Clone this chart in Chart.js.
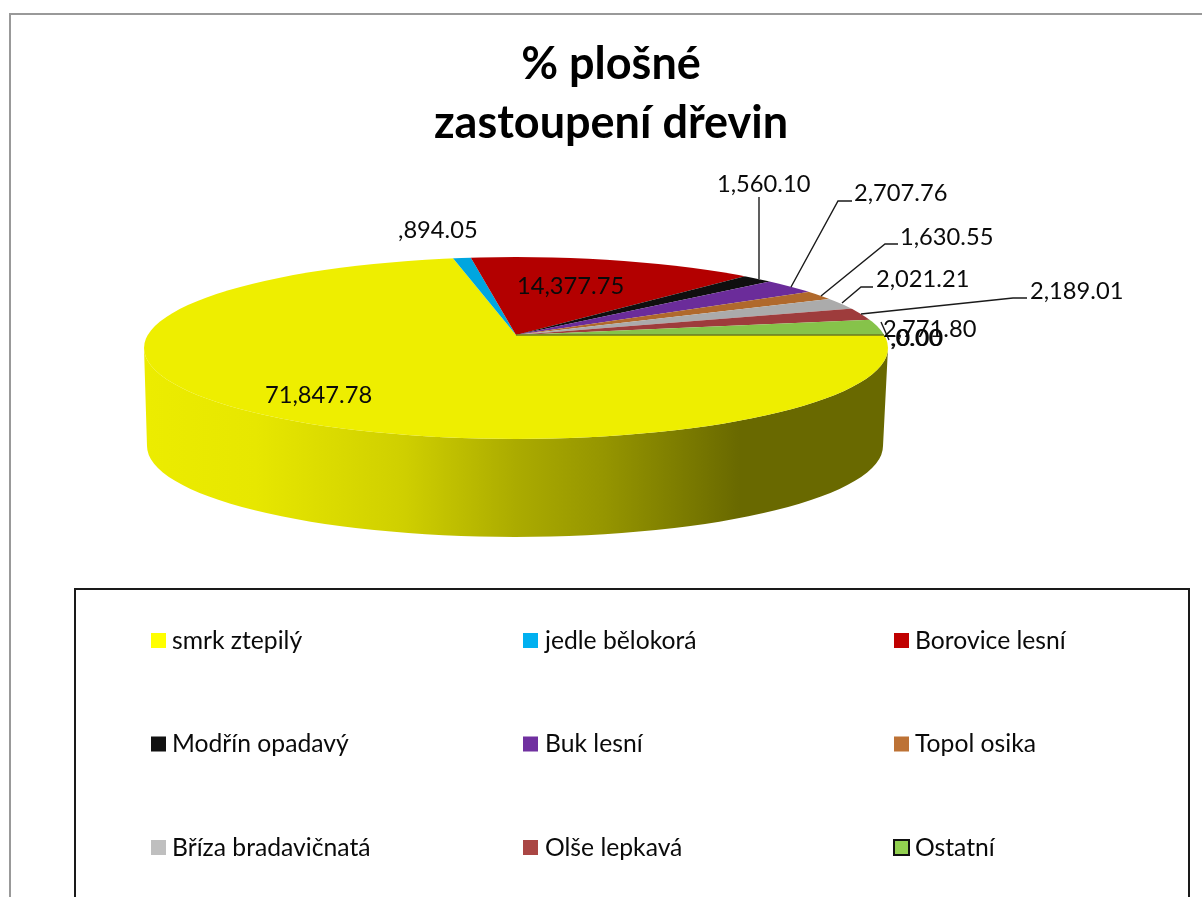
<!DOCTYPE html>
<html lang="cs">
<head>
<meta charset="utf-8">
<title>% plošné zastoupení dřevin</title>
<script src="https://cdn.jsdelivr.net/npm/chart.js@4"></script>
<style>
html,body{margin:0;padding:0;background:#fff;overflow:hidden;width:1202px;height:897px}
#frame{position:absolute;left:9px;top:13px;width:1300px;height:1000px;border-left:2px solid #999;border-top:2px solid #999;background:#fff}
#wrap{position:absolute;left:0;top:0;width:1200px;height:882px}
</style>
</head>
<body>
<div id="frame"><div id="wrap"><canvas id="c"></canvas></div></div>
<script>
const titleLines = ['% plošné', 'zastoupení dřevin'];
const categories = ['smrk ztepilý','jedle bělokorá','Borovice lesní','Modřín opadavý','Buk lesní','Topol osika','Bříza bradavičnatá','Olše lepkavá','Ostatní','',''];
const areaValues = [71847.78,894.05,14377.75,1560.10,2707.76,1630.55,2021.21,2189.01,2771.80,0,0];
const faceColors = ['#EEEE00','#00A6DF','#B30000','#0F0F0F','#6B2C9A','#B0692C','#ABABAB','#9E3C3C','#86C34A','#86C34A','#86C34A'];
const legendColors = ['#FFFF00','#00B0F0','#C00000','#111111','#7030A0','#BD7235','#BFBFBF','#AA4644','#92D050'];

/* Layout only (page pixels) */
const OX = 11, OY = 15;
const apex = {x:516, y:335};
const rim = {x:516, y:348, rx:372, ry:91};
const base = {x:515, y:446, rx:368, ry:91};
const overshoot = 1.35;
const FONT = 'Lato, "Open Sans", sans-serif';
const labelPos = [[265,395],[398,230],[517,286],[717,184],[854,193],[900,237],[876,279],[1030,291],[883,329],[890,338],[891,338]];
const leaders = [
  [[759,197],[759,279]],
  [[852,201],[838,201],[791,287]],
  [[898,244],[885,244],[821,296]],
  [[873,287],[861,287],[842,303]],
  [[1027,298],[1013,298],[861,314]],
  [[881,322],[889,340]]
];
const legendCols = [[151,172],[523,545],[894,915]];
const legendRows = [641,744.5,848];
const legendBox = {l:75,t:589,r:1189,b:940};

const sideStops = [[0,'#ECEC00'],[0.15,'#E7E700'],[0.35,'#CFCF00'],[0.5,'#ABAB00'],[0.62,'#959500'],[0.8,'#696900'],[1,'#696900']];

function fmt(v){
  const s = v.toLocaleString('en-US',{minimumFractionDigits:2,maximumFractionDigits:2});
  return v < 1000 ? ',' + s : s;
}

const pie3d = {
  id:'pie3d',
  beforeDatasetsDraw(chart){
    const ctx = chart.ctx, arcs = chart.getDatasetMeta(0).data;
    ctx.save();
    ctx.translate(-OX,-OY);
    const g = ctx.createLinearGradient(rim.x-rim.rx,0,rim.x+rim.rx,0);
    sideStops.forEach(s=>g.addColorStop(s[0],s[1]));
    arcs.forEach(a=>{
      const t0 = Math.max(a.startAngle,0), t1 = Math.min(a.endAngle,Math.PI);
      if (t1 <= t0) return;
      ctx.beginPath();
      ctx.ellipse(rim.x,rim.y,rim.rx,rim.ry,0,t0,t1,false);
      ctx.ellipse(base.x,base.y,base.rx,base.ry,0,t1,t0,true);
      ctx.closePath();
      ctx.fillStyle = g;
      ctx.fill();
    });
    ctx.restore();
  },
  beforeDatasetDraw(chart){
    const ctx = chart.ctx, a = chart.getDatasetMeta(0).data[0];
    const R = a.outerRadius;
    ctx.save();
    ctx.translate(-OX,-OY);
    ctx.beginPath();
    ctx.ellipse(rim.x,rim.y,rim.rx,rim.ry,0,0,Math.PI*2);
    ctx.clip();
    ctx.translate(apex.x,apex.y);
    ctx.scale(rim.rx*overshoot/R, rim.ry*overshoot/R);
    ctx.translate(-a.x,-a.y);
  },
  afterDatasetDraw(chart){
    const ctx = chart.ctx;
    ctx.restore();
    ctx.save();
    ctx.translate(-OX,-OY);
    // dark seam of the empty slices along the start radius
    ctx.strokeStyle = '#6B7A20';
    ctx.lineWidth = 1.5;
    ctx.beginPath();
    ctx.moveTo(apex.x,apex.y);
    ctx.lineTo(884,apex.y);
    ctx.stroke();
    // leader lines
    ctx.strokeStyle = '#1a1a1a';
    ctx.lineWidth = 1.4;
    leaders.forEach(l=>{
      ctx.beginPath();
      l.forEach((p,i)=> i ? ctx.lineTo(p[0],p[1]) : ctx.moveTo(p[0],p[1]));
      ctx.stroke();
    });
    // data labels
    ctx.fillStyle = '#0a0a0a';
    ctx.font = '23.7px ' + FONT;
    ctx.textAlign = 'left';
    ctx.textBaseline = 'middle';
    chart.data.datasets[0].data.forEach((v,i)=>{
      ctx.fillText(fmt(v),labelPos[i][0],labelPos[i][1]);
    });
    // legend
    ctx.strokeStyle = '#1a1a1a';
    ctx.lineWidth = 2;
    ctx.strokeRect(legendBox.l,legendBox.t,legendBox.r-legendBox.l,legendBox.b-legendBox.t);
    ctx.font = '24.7px ' + FONT;
    legendColors.forEach((col,i)=>{
      const c = legendCols[i%3], y = legendRows[Math.floor(i/3)];
      ctx.fillStyle = col;
      ctx.fillRect(c[0],y-8,15,15);
      if (i === 8){
        ctx.strokeStyle = '#111'; ctx.lineWidth = 2;
        ctx.strokeRect(c[0],y-8,15,15);
      }
      ctx.fillStyle = '#0a0a0a';
      ctx.fillText(chart.data.labels[i],c[1],y);
    });
    ctx.restore();
  }
};

new Chart(document.getElementById('c'),{
  type:'pie',
  data:{labels:categories,datasets:[{data:areaValues,backgroundColor:faceColors,borderWidth:0,clip:false}]},
  plugins:[pie3d],
  options:{
    responsive:true,
    maintainAspectRatio:false,
    animation:false,
    rotation:90,
    plugins:{
      legend:{display:false},
      tooltip:{enabled:false},
      title:{
        display:true,
        text:titleLines,
        color:'#000',
        align:'center',
        padding:{top:20,bottom:10},
        font:{family:FONT,size:45,weight:'bold',lineHeight:1.31}
      }
    }
  }
});
</script>
</body>
</html>
